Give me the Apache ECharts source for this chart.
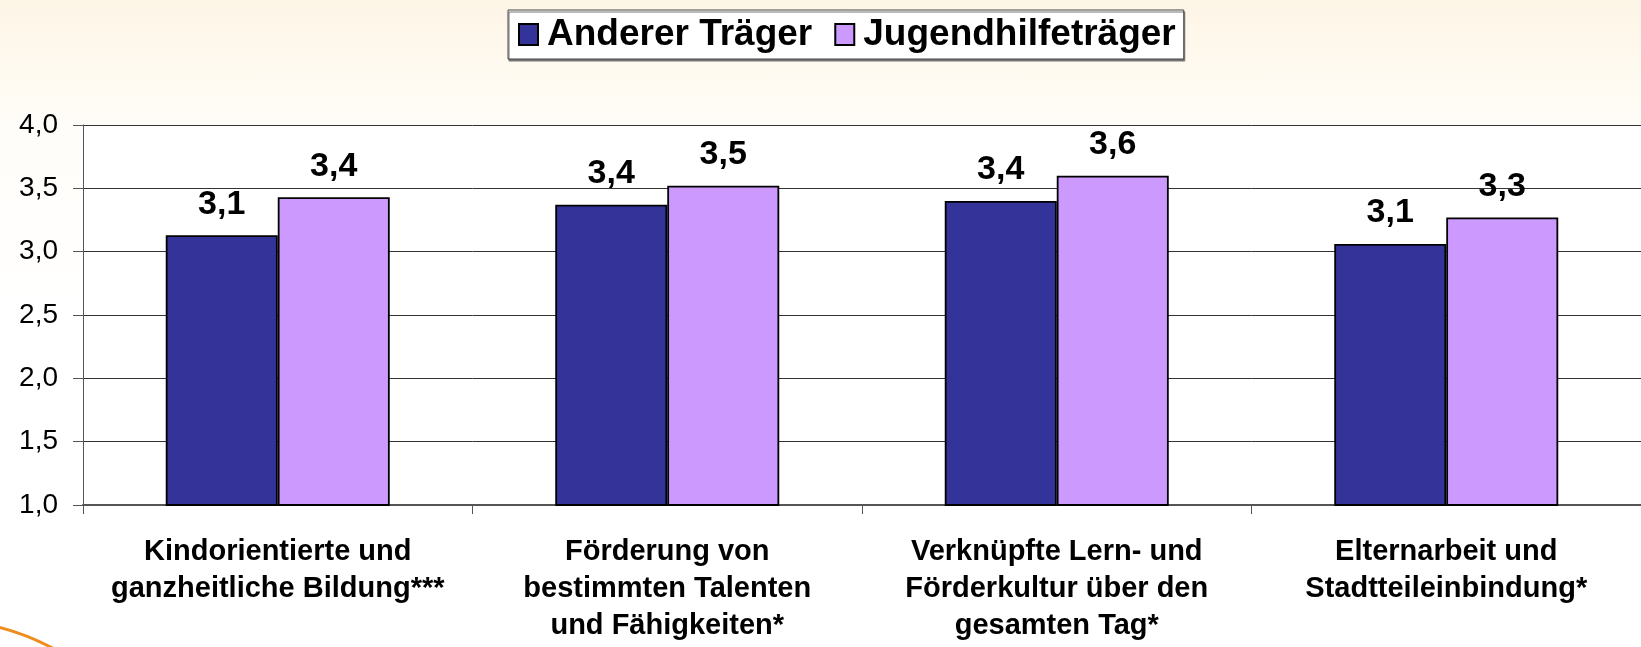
<!DOCTYPE html>
<html>
<head>
<meta charset="utf-8">
<script src="https://cdn.jsdelivr.net/npm/echarts@6/dist/echarts.min.js"></script>
<style>
  html, body { margin: 0; padding: 0; }
  body {
    width: 1641px; height: 647px;
    background: linear-gradient(to bottom, #fdf5e6 0px, #fffaf1 80px, #fffdf9 125px, #ffffff 320px);
  }
  #chart { width: 1641px; height: 647px; }
</style>
</head>
<body>
<div id="chart"></div>
<script>
// categories (x axis)
const categories = [
  'Kindorientierte und\nganzheitliche Bildung***',
  'Förderung von\nbestimmten Talenten\nund Fähigkeiten*',
  'Verknüpfte Lern- und\nFörderkultur über den\ngesamten Tag*',
  'Elternarbeit und\nStadtteileinbindung*'
];
const seriesNames = ['Anderer Träger', 'Jugendhilfeträger'];
// values
const andererTraeger = [3.13, 3.37, 3.40, 3.06];
const jugendhilfeTraeger = [3.43, 3.52, 3.60, 3.27];

const font = '"Liberation Sans", Arial, Helvetica, sans-serif';
const comma = v => v.toFixed(1).replace('.', ',');

const chart = echarts.init(document.getElementById('chart'));

const barLabel = {
  show: true,
  position: 'top',
  distance: 14,
  formatter: p => comma(p.value),
  color: '#000',
  fontFamily: font,
  fontWeight: 'bold',
  fontSize: 34
};

chart.setOption({
  backgroundColor: 'transparent',
  animation: false,
  textStyle: { fontFamily: font },
  legend: {
    data: seriesNames,
    left: 508,
    top: 10,
    padding: [6, 8, 6, 10],
    itemGap: 22,
    itemWidth: 19,
    itemHeight: 21,
    icon: 'rect',
    backgroundColor: '#fff',
    borderColor: '#444',
    borderWidth: 1,
    shadowColor: '#777',
    shadowOffsetX: 1,
    shadowOffsetY: 2,
    shadowBlur: 0,
    textStyle: { color: '#000', fontSize: 37, fontWeight: 'bold', fontFamily: font, padding: [0, 0, 0, 4] }
  },
  grid: {
    left: 83,
    top: 125,
    width: 1572,
    height: 380,
    show: true,
    backgroundColor: '#fff',
    borderWidth: 0
  },
  xAxis: {
    type: 'category',
    data: categories,
    axisLine: { lineStyle: { color: '#555', width: 2 } },
    axisTick: { show: true, length: 9, lineStyle: { color: '#555', width: 1 } },
    axisLabel: {
      color: '#000',
      fontFamily: font,
      fontWeight: 'bold',
      fontSize: 29,
      lineHeight: 37,
      margin: 28,
      interval: 0
    }
  },
  yAxis: {
    type: 'value',
    min: 1,
    max: 4,
    interval: 0.5,
    axisLine: { show: true, lineStyle: { color: '#555', width: 1 } },
    axisTick: { show: true, length: 10, lineStyle: { color: '#555' } },
    splitLine: { lineStyle: { color: '#333', width: 1 } },
    axisLabel: {
      color: '#000',
      fontFamily: font,
      fontSize: 28,
      margin: 25,
      formatter: v => comma(v)
    }
  },
  series: [
    {
      name: seriesNames[0],
      type: 'bar',
      data: andererTraeger,
      barWidth: 112,
      barGap: '0%',
      itemStyle: { color: '#333399', borderColor: '#000', borderWidth: 1.8 },
      label: barLabel
    },
    {
      name: seriesNames[1],
      type: 'bar',
      data: jugendhilfeTraeger,
      barWidth: 112,
      itemStyle: { color: '#cc99ff', borderColor: '#000', borderWidth: 1.8 },
      label: barLabel
    }
  ],
  graphic: [
    {
      type: 'bezierCurve',
      silent: true,
      shape: { x1: -2, y1: 627, x2: 58, y2: 651, cpx1: 18, cpy1: 632, cpx2: 40, cpy2: 641 },
      style: { stroke: '#ef8c1a', lineWidth: 3, fill: null }
    }
  ]
});
</script>
</body>
</html>
